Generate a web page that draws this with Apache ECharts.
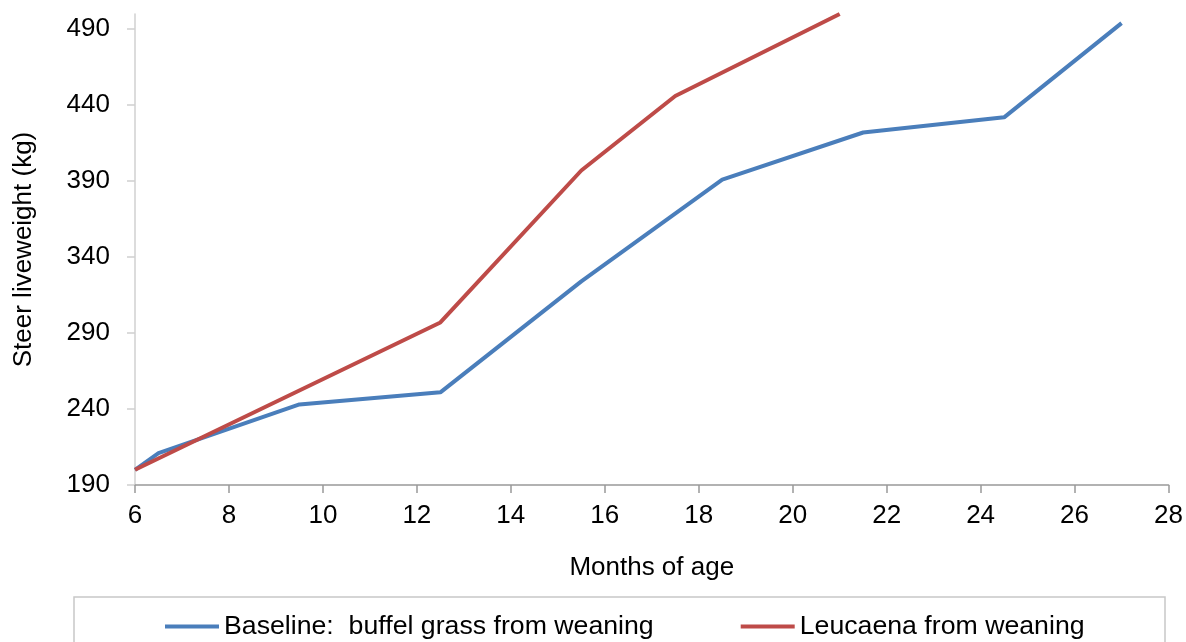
<!DOCTYPE html>
<html>
<head>
<meta charset="utf-8">
<script src="https://cdn.jsdelivr.net/npm/echarts@6/dist/echarts.min.js"></script>
<style>
  html, body { margin: 0; padding: 0; background: #fff; }
  #main { width: 1186px; height: 642px; }
</style>
</head>
<body>
<div id="main"></div>
<script>
// months of age / liveweight (kg)
const baselineMonths = [6, 6.5, 9.5, 12.5, 15.5, 18.5, 21.5, 24.5, 27];
const baselineWeight = [200, 211, 243, 251, 324, 391, 422, 432, 494];
const leucaenaMonths = [6, 12.5, 15.5, 17.5, 21];
const leucaenaWeight = [200, 297, 397, 446, 500];

const seriesNames = ['Baseline:  buffel grass from weaning', 'Leucaena from weaning'];
const font = 'Liberation Sans, Arial, sans-serif';

const chart = echarts.init(document.getElementById('main'));

function pairs(xs, ys) {
  return xs.map((x, i) => [x, ys[i]]);
}

const option = {
  animation: false,
  backgroundColor: '#fff',
  grid: { left: 135, right: 17, top: 14, bottom: 157 },
  xAxis: {
    type: 'value',
    min: 6,
    max: 28,
    interval: 2,
    name: 'Months of age',
    nameLocation: 'middle',
    nameGap: 70,
    nameTextStyle: { fontFamily: font, fontSize: 26, color: '#000' },
    axisLine: { lineStyle: { color: '#999', width: 1.5 } },
    axisTick: { show: true, length: 8, lineStyle: { color: '#999', width: 1.5 } },
    axisLabel: { margin: 18, fontFamily: font, fontSize: 26, color: '#000' },
    splitLine: { show: false }
  },
  yAxis: {
    type: 'value',
    min: 190,
    max: 500,
    interval: 50,
    name: 'Steer liveweight (kg)',
    nameLocation: 'middle',
    nameGap: 98,
    nameTextStyle: { fontFamily: font, fontSize: 26, color: '#000' },
    axisLine: { show: true, lineStyle: { color: '#d0d0d0', width: 1.5 } },
    axisTick: { show: true, length: 8, lineStyle: { color: '#d0d0d0', width: 1.5 } },
    axisLabel: { margin: 25, fontFamily: font, fontSize: 26, color: '#000', showMaxLabel: false },
    splitLine: { show: false }
  },
  legend: {
    left: 160,
    top: 608,
    icon: 'rect',
    itemWidth: 54,
    itemHeight: 4,
    itemGap: 87,
    textStyle: { fontFamily: font, fontSize: 26.7, color: '#000' },
    data: seriesNames
  },
  graphic: [
    {
      type: 'rect',
      shape: { x: 74, y: 597, width: 1091, height: 60 },
      style: { fill: 'none', stroke: '#c8c8c8', lineWidth: 1.5 }
    }
  ],
  series: [
    {
      name: seriesNames[0],
      type: 'line',
      symbol: 'none',
      data: pairs(baselineMonths, baselineWeight),
      color: '#4A7EBB',
      lineStyle: { color: '#4A7EBB', width: 4 }
    },
    {
      name: seriesNames[1],
      type: 'line',
      symbol: 'none',
      data: pairs(leucaenaMonths, leucaenaWeight),
      color: '#BE4B48',
      lineStyle: { color: '#BE4B48', width: 4 }
    }
  ]
};

chart.setOption(option);
</script>
</body>
</html>
